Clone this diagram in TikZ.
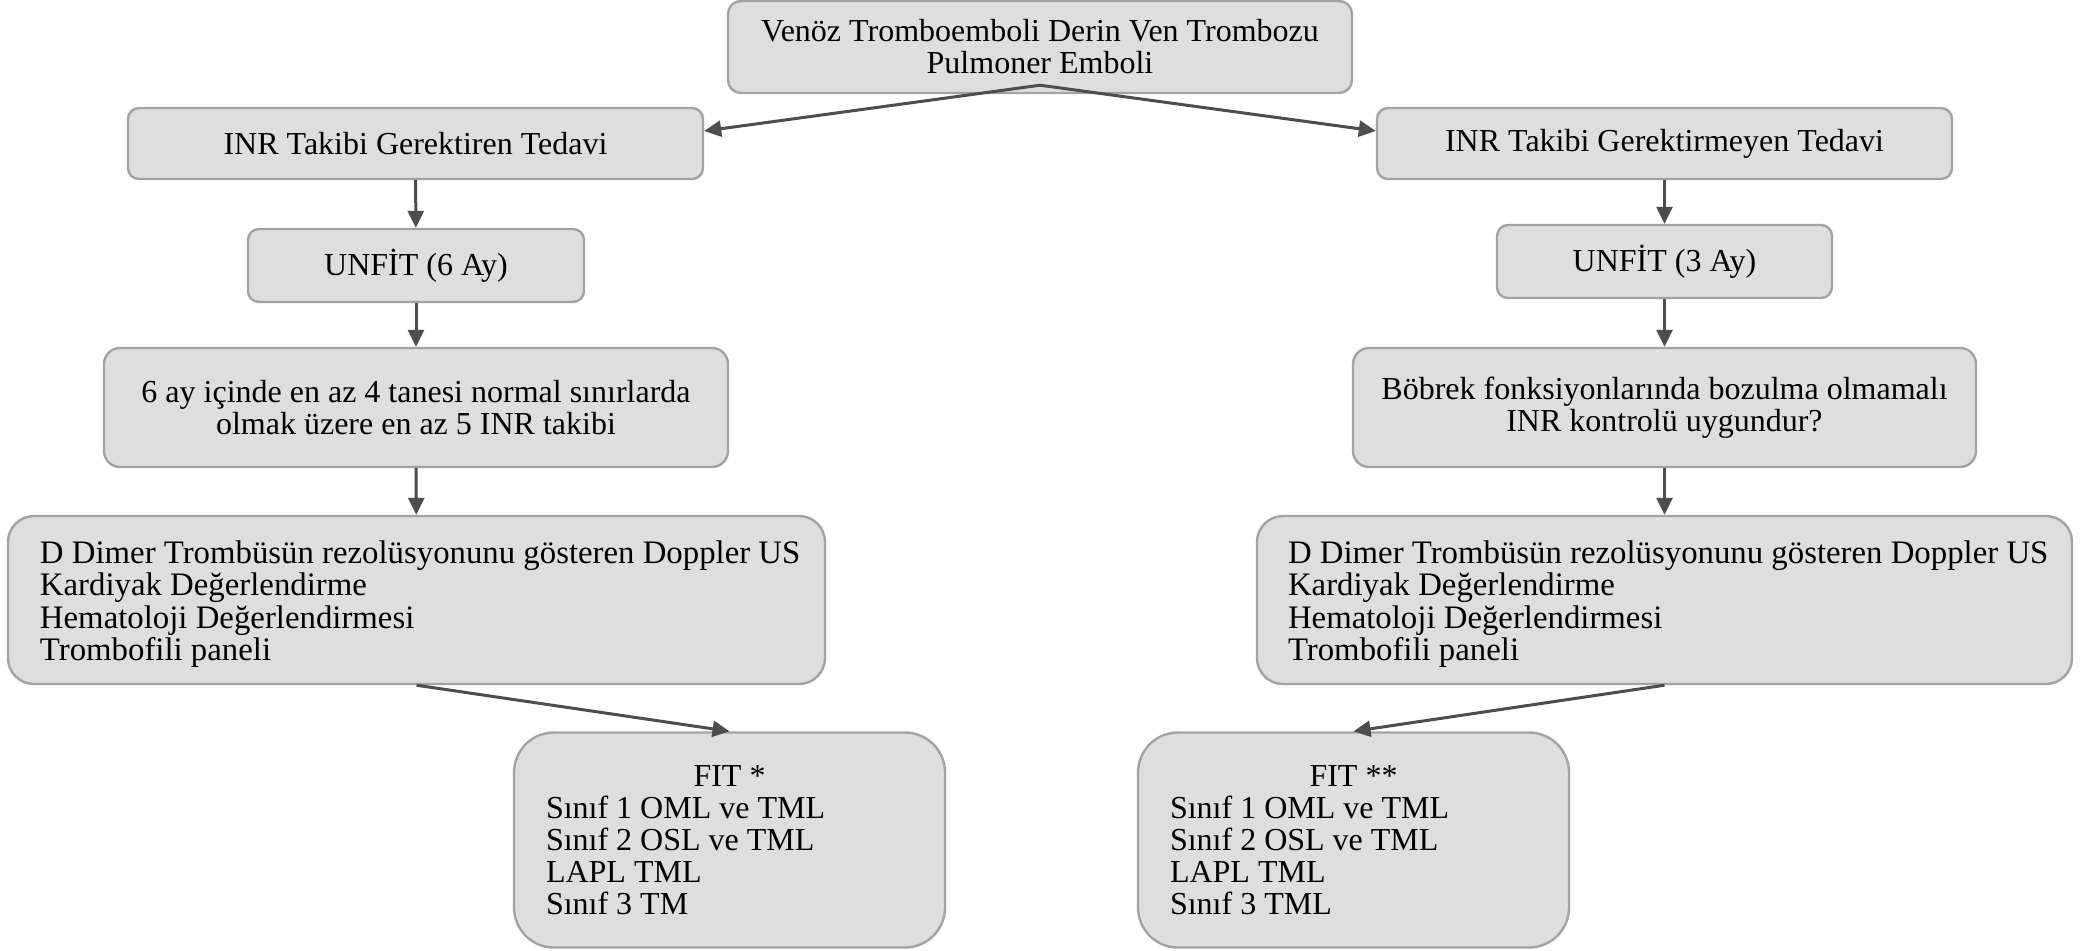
\documentclass[tikz,border=0pt]{standalone}
\usepackage{fontspec}
\setmainfont{Liberation Serif}
\usetikzlibrary{arrows.meta,calc}
\definecolor{boxfill}{HTML}{DEDEDE}
\definecolor{boxline}{HTML}{A3A3A3}
\definecolor{arrowline}{HTML}{4D4D4D}
\newcommand{\checklist}[1]{\hspace*{15.5pt}\raisebox{-2pt}[\height][\depth]{\parbox{392pt}{\fontsize{16.4pt}{16.3pt}\selectfont\raggedright #1}}}
\begin{document}
\begin{tikzpicture}[x=1pt,y=-1pt,
  box/.style={draw=boxline, fill=boxfill, line width=1.2pt, inner sep=0pt,
    align=center, font=\fontsize{16pt}{16pt}\selectfont},
  flow/.style={draw=arrowline, line width=1.5pt,
    -{Triangle[length=8.5pt,width=8pt]}}]
\useasboundingbox (0,0) rectangle (1046,475);

% top of the tree
\node[box, rounded corners=6.5pt, minimum width=312pt, minimum height=46pt] (top) at (520,23.5)
  {Venöz Tromboemboli Derin Ven Trombozu\\Pulmoner Emboli};

% left branch
\node[box, rounded corners=5.5pt, minimum width=287.5pt, minimum height=35.5pt] (inrL) at (207.75,71.75)
  {INR Takibi Gerektiren Tedavi};
\node[box, rounded corners=5.5pt, minimum width=168pt, minimum height=36.5pt] (unfL) at (208,132.75)
  {UNFİT (6 Ay)};
\node[box, rounded corners=8pt, minimum width=312pt, minimum height=59.5pt] (ayL) at (208,203.75)
  {6 ay içinde en az 4 tanesi normal sınırlarda\\olmak üzere en az 5 INR takibi};
\node[box, rounded corners=13pt, minimum width=408.5pt, minimum height=84pt] (ddL) at (208.25,300)
  {\checklist{D Dimer Trombüsün rezolüsyonunu gösteren Doppler US\\Kardiyak Değerlendirme\\Hematoloji Değerlendirmesi\\Trombofili paneli}};
\node[box, rounded corners=20pt, minimum width=215.5pt, minimum height=107.5pt] (fitL) at (364.75,420)
  {\parbox{183.5pt}{\centering FIT *\par\raggedright Sınıf 1 OML ve TML\\Sınıf 2 OSL ve TML\\LAPL TML\\Sınıf 3 TM}};

% right branch
\node[box, rounded corners=5.5pt, minimum width=287.5pt, minimum height=35.5pt] (inrR) at (832.25,71.75)
  {INR Takibi Gerektirmeyen Tedavi};
\node[box, rounded corners=5.5pt, minimum width=167.5pt, minimum height=36.5pt] (unfR) at (832.25,130.75)
  {UNFİT (3 Ay)};
\node[box, rounded corners=8pt, minimum width=311.5pt, minimum height=59.5pt] (bobR) at (832.25,203.75)
  {Böbrek fonksiyonlarında bozulma olmamalı\\INR kontrolü uygundur?};
\node[box, rounded corners=13pt, minimum width=407.5pt, minimum height=84pt] (ddR) at (832.25,300)
  {\checklist{D Dimer Trombüsün rezolüsyonunu gösteren Doppler US\\Kardiyak Değerlendirme\\Hematoloji Değerlendirmesi\\Trombofili paneli}};
\node[box, rounded corners=20pt, minimum width=215.5pt, minimum height=107.5pt] (fitR) at (676.75,420)
  {\parbox{183.5pt}{\centering FIT **\par\raggedright Sınıf 1 OML ve TML\\Sınıf 2 OSL ve TML\\LAPL TML\\Sınıf 3 TML}};

% connectors
\coordinate (fork) at ($(top.south)+(0,-4.5)$);
\draw[flow] (fork) -- ($(inrL.east)+(0,-6.25)$);
\draw[flow] (fork) -- ($(inrR.west)+(0,-6.25)$);
\draw[flow] (inrL) -- (unfL);
\draw[flow] (unfL) -- (ayL);
\draw[flow] (ayL) -- (ddL);
\draw[flow] (ddL.south) -- (fitL.north);
\draw[flow] (inrR) -- (unfR);
\draw[flow] (unfR) -- (bobR);
\draw[flow] (bobR) -- (ddR);
\draw[flow] (ddR.south) -- (fitR.north);
\end{tikzpicture}
\end{document}
